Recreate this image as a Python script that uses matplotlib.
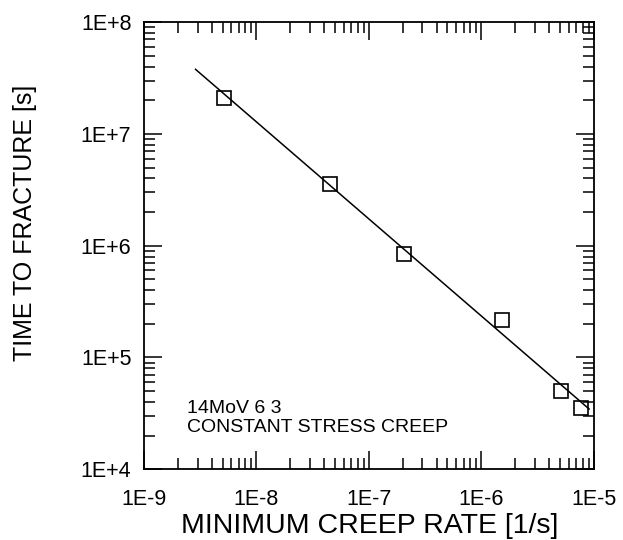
import numpy as np
import matplotlib.pyplot as plt
from matplotlib.ticker import LogLocator, FixedLocator, NullFormatter

plt.rcParams['font.family'] = ['Liberation Sans', 'DejaVu Sans']

# Measured points: minimum creep rate [1/s] vs. time to fracture [s]
creep_rate = [5.14e-9, 4.56e-8, 2.05e-7, 1.52e-6, 5.16e-6, 7.65e-6]
fracture_time = [2.11e7, 3.57e6, 8.4e5, 2.17e5, 4.97e4, 3.55e4]

# Fitted line end points
fit_rate = [2.88e-9, 9.1e-6]
fit_time = [3.78e7, 3.46e4]

x_ticks = [1e-9, 1e-8, 1e-7, 1e-6, 1e-5]
x_labels = ['1E-9', '1E-8', '1E-7', '1E-6', '1E-5']
y_ticks = [1e4, 1e5, 1e6, 1e7, 1e8]
y_labels = ['1E+4', '1E+5', '1E+6', '1E+7', '1E+8']

fig = plt.figure(figsize=(6.23, 5.4), dpi=100)
ax = fig.add_axes([0.231, 0.131, 0.722, 0.828])

ax.plot(fit_rate, fit_time, color='black', lw=1.1)
ax.plot(creep_rate, fracture_time, 's', ms=10, mfc='none', mec='black', mew=1.2)

ax.set_xscale('log')
ax.set_yscale('log')
ax.set_xlim(1e-9, 1e-5)
ax.set_ylim(1e4, 1e8)

ax.xaxis.set_major_locator(FixedLocator(x_ticks))
ax.set_xticklabels(x_labels)
ax.yaxis.set_major_locator(FixedLocator(y_ticks))
ax.set_yticklabels(y_labels)
ax.xaxis.set_minor_locator(LogLocator(base=10, subs=np.arange(2, 10), numticks=20))
ax.yaxis.set_minor_locator(LogLocator(base=10, subs=np.arange(2, 10), numticks=20))
ax.xaxis.set_minor_formatter(NullFormatter())
ax.yaxis.set_minor_formatter(NullFormatter())

ax.tick_params(which='both', direction='in', top=True, right=True, width=1.1, labelsize=15.5)
ax.tick_params(which='major', length=13)
ax.tick_params(axis='x', which='major', pad=14)
ax.tick_params(axis='y', which='major', pad=9)
ax.tick_params(which='minor', length=8)
for s in ax.spines.values():
    s.set_linewidth(1.3)

ax.set_xlabel('MINIMUM CREEP RATE [1/s]', fontsize=20.5)
ax.set_ylabel('TIME TO FRACTURE [s]', fontsize=18)
ax.xaxis.set_label_coords(0.502, -0.097)
ax.yaxis.set_label_coords(-0.238, 0.55)

ax.text(0.095, 0.155, '14MoV 6 3\nCONSTANT STRESS CREEP', transform=ax.transAxes,
        fontsize=14, va='top', ha='left', linespacing=1.12)

fig.savefig('out.png', dpi=100)
